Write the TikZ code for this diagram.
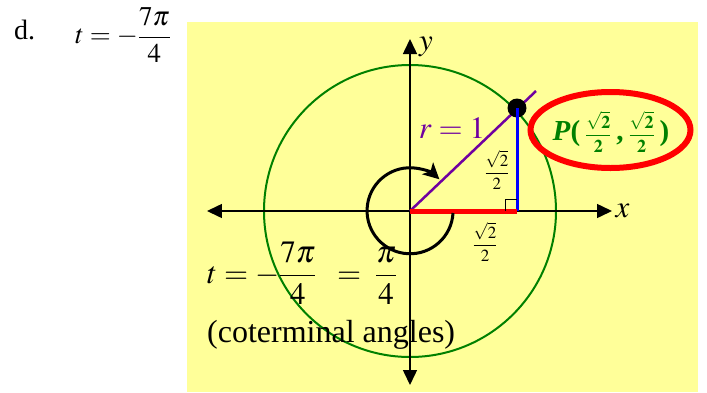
\documentclass[tikz,border=0pt]{standalone}
\usepackage{amsmath,amssymb}
\usepackage{mathptmx}
\usepackage{fontspec}
\setmainfont{Liberation Serif}
\usepackage{xcolor}
\usepackage{tikz}
\usetikzlibrary{shapes.geometric, arrows.meta, positioning}
\definecolor{paleyellow}{RGB}{255,255,153}
\definecolor{circgreen}{RGB}{0,128,0}
\definecolor{radpurple}{RGB}{112,0,160}
\tikzstyle{axis} = [line width=1.5pt, {Triangle[length=15pt,width=14pt]}-{Triangle[length=15pt,width=14pt]}]
\tikzstyle{unitcircle} = [draw=circgreen, line width=2pt]
\tikzstyle{turnarrow} = [line width=3pt, arrows={-Stealth[length=16pt,width=16pt,inset=4pt]}]
\tikzstyle{small} = [font=\fontsize{17}{20}\selectfont]

\begin{document}
\begin{tikzpicture}[x=1pt, y=1pt, font=\fontsize{31}{36}\selectfont]
    \useasboundingbox (-410,-181) rectangle (297,211);
    \fill[paleyellow] (-223,-181) rectangle (288,189);

    \coordinate (O) at (0,0);
    \coordinate (P) at (107,103);
    \coordinate (Q) at (107,0);
    \coordinate (rend) at (126,120);
    \coordinate (xl) at (-203,0);
    \coordinate (xr) at (202,0);
    \coordinate (yb) at (0,-174);
    \coordinate (yt) at (0,172);

    \draw [unitcircle] (O) circle[radius=146];
    \draw [axis] (xl) -- (xr);
    \draw [axis] (yb) -- (yt);
    \node (xlab) [right=0pt of xr] {$x$};
    \node (ylab) at (16,164) {$y$};

    % radius, legs and the point
    \draw [radpurple, line width=2.5pt] (O) -- (rend);
    \node (pdot) [circle, fill=black, minimum width=19pt, minimum height=17pt, inner sep=0] at (P) {};
    \draw [blue, line width=3pt] (P) -- (Q);
    \draw [red, line width=5pt] (O) -- (Q);
    \draw [line width=1pt] (95,0) |- (107,12);
    \draw [turnarrow] (43,-2) arc[start angle=-3, end angle=-313, radius=43];

    \node (rlab) [text=radpurple] at (42,83) {$r=1$};
    \node (ylen) [small] at (87,41) {$\dfrac{\sqrt{2}}{2}$};
    \node (xlen) [small] at (75,-31) {$\dfrac{\sqrt{2}}{2}$};

    \node (pring) [ellipse, draw=red, line width=6pt, minimum width=160pt, minimum height=76pt, inner sep=0] at (200.5,81) {};
    \node (plab) [text=circgreen, font=\fontsize{29}{33}\selectfont\bfseries] at (201,79)
        {\textit{P}(\,{\fontsize{18}{21}\selectfont$\dfrac{\sqrt{\mathbf{2}}}{\mathbf{2}}$}\,,\,{\fontsize{18}{21}\selectfont$\dfrac{\sqrt{\mathbf{2}}}{\mathbf{2}}$}\,)};

    \node (tlab) [anchor=west, inner sep=0] at (-203,-62) {$t=-\dfrac{7\pi}{4}\;\;=\;\dfrac{\pi}{4}$};
    \node (cot) [anchor=base west, inner sep=0, font=\fontsize{32}{36}\selectfont] at (-203,-131) {(coterminal angles)};

    \node (dlab) [anchor=base west, inner sep=0, font=\fontsize{28}{32}\selectfont] at (-396,172) {d.};
    \node (tq) [anchor=west, inner sep=0, font=\fontsize{27}{31}\selectfont] at (-335,176) {$t=-\dfrac{7\pi}{4}$};
\end{tikzpicture}
\end{document}
